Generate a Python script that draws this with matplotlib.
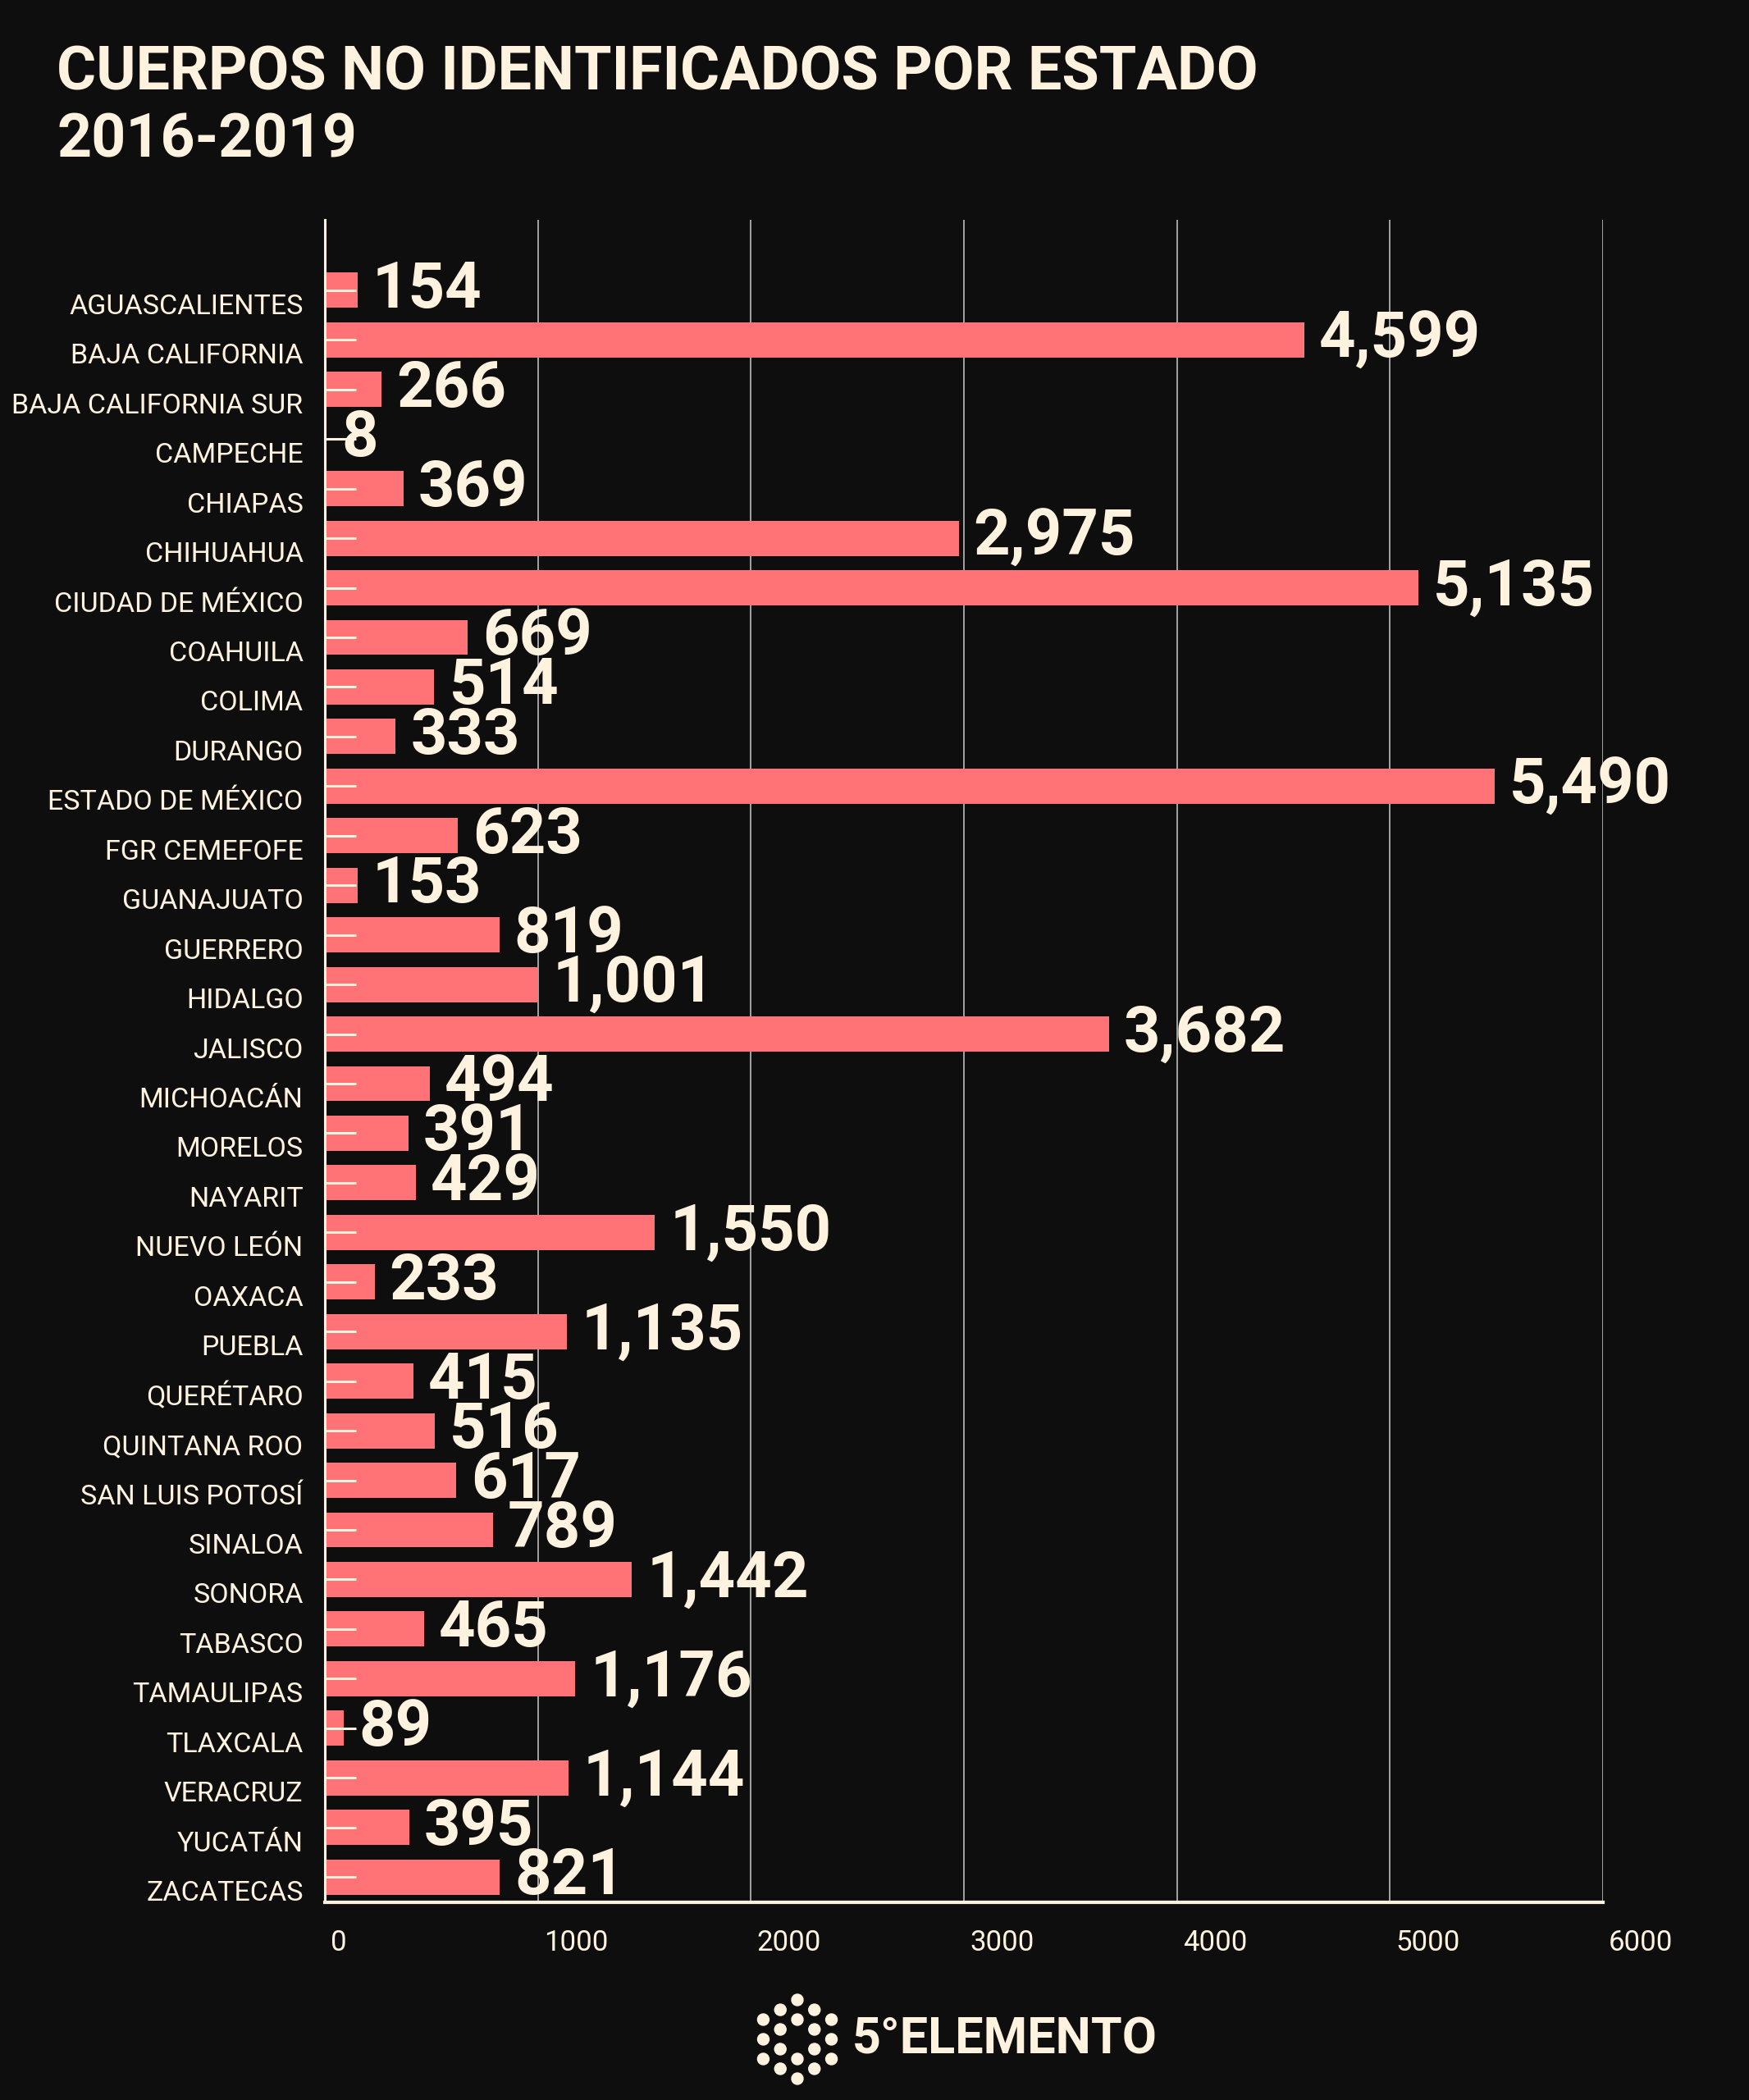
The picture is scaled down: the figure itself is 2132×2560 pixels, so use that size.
import numpy as np
import matplotlib
matplotlib.use("Agg")
import matplotlib.pyplot as plt
import matplotlib.transforms as mtransforms
from matplotlib.patches import Circle

# data
states = [
    "AGUASCALIENTES", "BAJA CALIFORNIA", "BAJA CALIFORNIA SUR", "CAMPECHE",
    "CHIAPAS", "CHIHUAHUA", "CIUDAD DE MÉXICO", "COAHUILA", "COLIMA",
    "DURANGO", "ESTADO DE MÉXICO", "FGR CEMEFOFE", "GUANAJUATO", "GUERRERO",
    "HIDALGO", "JALISCO", "MICHOACÁN", "MORELOS", "NAYARIT", "NUEVO LEÓN",
    "OAXACA", "PUEBLA", "QUERÉTARO", "QUINTANA ROO", "SAN LUIS POTOSÍ",
    "SINALOA", "SONORA", "TABASCO", "TAMAULIPAS", "TLAXCALA", "VERACRUZ",
    "YUCATÁN", "ZACATECAS",
]
bodies = [
    154, 4599, 266, 8, 369, 2975, 5135, 669, 514, 333, 5490, 623, 153, 819,
    1001, 3682, 494, 391, 429, 1550, 233, 1135, 415, 516, 617, 789, 1442,
    465, 1176, 89, 1144, 395, 821,
]
x_ticks = [0, 1000, 2000, 3000, 4000, 5000, 6000]

title_line1 = "CUERPOS NO IDENTIFICADOS POR ESTADO"
title_line2 = "2016-2019"
brand = "5°ELEMENTO"

BG = "#0e0e0e"
CREAM = "#fff3df"
BAR = "#ff7275"
GRID = "#bdbdbd"

plt.rcParams["font.family"] = ["Roboto", "DejaVu Sans"]

W, H = 2132, 2560
fig = plt.figure(figsize=(W / 100, H / 100), dpi=100, facecolor=BG)
ax = fig.add_axes([396 / W, 1 - 2319 / H, (1954 - 396) / W, (2319 - 268) / H])
ax.set_facecolor(BG)

y = np.arange(len(states))
ax.barh(y, bodies, height=0.71, color=BAR, zorder=2)

# value labels
for yi, v in zip(y, bodies):
    ax.annotate(f"{v:,}", xy=(v, yi), xytext=(18, 0), textcoords="offset pixels",
                ha="left", va="center", fontsize=56, fontweight="bold",
                color=CREAM, zorder=4)

ax.set_xlim(0, 6000)
ax.set_ylim(len(states) - 1 + 0.51, -1.42)

ax.set_xticks(x_ticks)
ax.set_xticklabels([str(t) for t in x_ticks])
ax.set_yticks(y)
ax.set_yticklabels(states)

ax.set_axisbelow(True)
ax.grid(axis="x", color=GRID, linewidth=1.2)
ax.grid(axis="y", visible=False)
ax.yaxis.set_zorder(3)

ax.tick_params(axis="x", length=0, pad=24, labelsize=25, labelcolor=CREAM)
ax.tick_params(axis="y", direction="in", length=27, width=2.2, color=CREAM,
               pad=19, labelsize=24.5, labelcolor=CREAM)

for lbl in ax.get_xticklabels():
    lbl.set_horizontalalignment("left")
    lbl.set_transform(lbl.get_transform() +
                      mtransforms.ScaledTranslation(0.07, 0, fig.dpi_scale_trans))
for lbl in ax.get_yticklabels():
    lbl.set_transform(lbl.get_transform() +
                      mtransforms.ScaledTranslation(0, -0.165, fig.dpi_scale_trans))

for side in ["top", "right"]:
    ax.spines[side].set_visible(False)
ax.spines["left"].set_color(CREAM)
ax.spines["left"].set_linewidth(2.2)
ax.spines["bottom"].set_color(CREAM)
ax.spines["bottom"].set_linewidth(3)

# title
fig.text(69 / W, 1 - 109 / H, title_line1, fontsize=53, fontweight="bold",
         color=CREAM, va="baseline", ha="left")
fig.text(69 / W, 1 - 192 / H, title_line2, fontsize=53, fontweight="bold",
         color=CREAM, va="baseline", ha="left")

# logo: hexagonal rings of dots
lax = fig.add_axes([(972 - 60) / W, 1 - (2486 + 60) / H, 120 / W, 120 / H])
lax.set_xlim(-60, 60)
lax.set_ylim(-60, 60)
lax.set_aspect("equal")
lax.axis("off")
for k in range(6):
    a = np.deg2rad(90 + 60 * k)
    lax.add_patch(Circle((24 * np.cos(a), 24 * np.sin(a)), 7, color=CREAM))
    lax.add_patch(Circle((48 * np.cos(a), 48 * np.sin(a)), 7, color=CREAM))
    b = np.deg2rad(60 * k)
    lax.add_patch(Circle((41.5 * np.cos(b), 41.5 * np.sin(b)), 7, color=CREAM))

fig.text(1039 / W, 1 - 2486 / H, brand, fontsize=44, fontweight="bold",
         color=CREAM, va="center", ha="left")

fig.savefig("out.png", dpi=100, facecolor=BG)
